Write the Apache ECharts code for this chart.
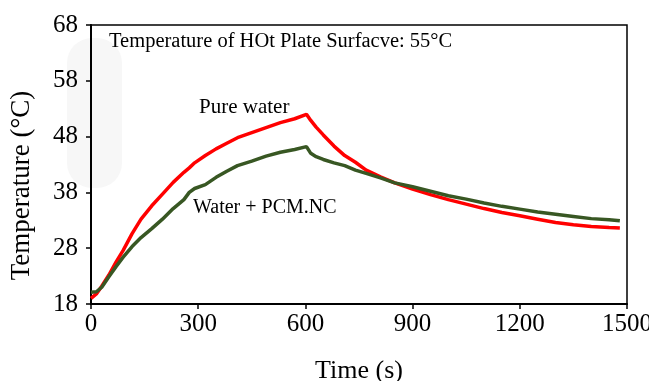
<!DOCTYPE html>
<html>
<head>
<meta charset="utf-8">
<script src="https://cdn.jsdelivr.net/npm/echarts@6/dist/echarts.min.js"></script>
<style>
  html, body { margin: 0; padding: 0; background: #fff; }
  #main { width: 649px; height: 381px; }
</style>
</head>
<body>
<div id="main"></div>
<script>
var times = [0, 15, 30, 50, 70, 90, 115, 140, 170, 200, 230, 260, 275, 290, 320, 350, 380, 410, 450, 490, 530, 570, 603, 615, 630, 650, 680, 710, 740, 770, 810, 850, 900, 950, 1000, 1050, 1100, 1150, 1200, 1250, 1300, 1350, 1400, 1450, 1480];
var pureWater = [19.0, 19.8, 21.2, 23.2, 25.5, 27.6, 30.6, 33.2, 35.6, 37.7, 39.8, 41.6, 42.4, 43.3, 44.6, 45.8, 46.8, 47.8, 48.7, 49.6, 50.5, 51.2, 52.0, 50.9, 49.7, 48.3, 46.3, 44.6, 43.4, 42.0, 40.8, 39.7, 38.6, 37.6, 36.7, 35.9, 35.1, 34.4, 33.8, 33.2, 32.6, 32.2, 31.9, 31.7, 31.6];
var waterPcm = [20.1, 20.2, 21.0, 22.9, 24.7, 26.4, 28.3, 29.9, 31.5, 33.2, 35.1, 36.7, 38.0, 38.7, 39.4, 40.7, 41.8, 42.8, 43.6, 44.5, 45.2, 45.7, 46.2, 45.0, 44.4, 43.9, 43.3, 42.8, 42.0, 41.4, 40.6, 39.7, 39.0, 38.2, 37.4, 36.8, 36.1, 35.5, 35.0, 34.5, 34.1, 33.7, 33.3, 33.1, 32.9];
var xTicks = [0, 300, 600, 900, 1200, 1500];
var yTicks = [18, 28, 38, 48, 58, 68];

function pairs(xs, ys) {
  var out = [];
  for (var i = 0; i < xs.length; i++) out.push([xs[i], ys[i]]);
  return out;
}

var serif = '"Liberation Serif", "DejaVu Serif", serif';
var chart = echarts.init(document.getElementById('main'));

var option = {
  animation: false,
  backgroundColor: '#fff',
  grid: {
    left: 91, right: 22, top: 25, bottom: 77,
    outerBoundsMode: 'none', containLabel: false,
    show: true, borderColor: '#000', borderWidth: 1.5
  },
  xAxis: {
    type: 'value',
    min: xTicks[0], max: xTicks[xTicks.length - 1], interval: 300,
    name: 'Time (s)', nameLocation: 'middle', nameGap: 54,
    nameTextStyle: { fontFamily: serif, fontSize: 26, color: '#000' },
    axisLine: { lineStyle: { color: '#000', width: 2 } },
    axisTick: { length: 5, lineStyle: { color: '#000', width: 1.5 } },
    axisLabel: { fontFamily: serif, fontSize: 25, color: '#000', margin: 8,
      formatter: function (v) { return String(v); } },
    splitLine: { show: false }
  },
  yAxis: {
    type: 'value',
    min: yTicks[0], max: yTicks[yTicks.length - 1], interval: 10,
    name: 'Temperature (°C)', nameLocation: 'middle', nameGap: 56,
    nameTextStyle: { fontFamily: serif, fontSize: 27, color: '#000', padding: [0, 42, 0, 0] },
    axisLine: { show: true, lineStyle: { color: '#000', width: 2 } },
    axisTick: { show: true, length: 5, lineStyle: { color: '#000', width: 1.5 } },
    axisLabel: { fontFamily: serif, fontSize: 25, color: '#000', margin: 13 },
    splitLine: { show: false }
  },
  graphic: [
    { type: 'rect', z: -10, shape: { x: 67, y: 38, width: 55, height: 150, r: 25 }, style: { fill: '#f7f7f7' } },
    { type: 'text', left: 109, top: 31, style: { text: 'Temperature of HOt Plate Surfacve: 55°C', font: '20.5px ' + serif, fill: '#000' } },
    { type: 'text', left: 199, top: 97, style: { text: 'Pure water', font: '21px ' + serif, fill: '#000' } },
    { type: 'text', left: 193, top: 198, style: { text: 'Water + PCM.NC', font: '20px ' + serif, fill: '#000' } }
  ],
  series: [
    {
      name: 'Pure water', type: 'line', data: pairs(times, pureWater),
      showSymbol: false, lineStyle: { color: '#ff0000', width: 3.5 }
    },
    {
      name: 'Water + PCM.NC', type: 'line', data: pairs(times, waterPcm),
      showSymbol: false, lineStyle: { color: '#385723', width: 3.5 }
    }
  ]
};

chart.setOption(option);
</script>
</body>
</html>
